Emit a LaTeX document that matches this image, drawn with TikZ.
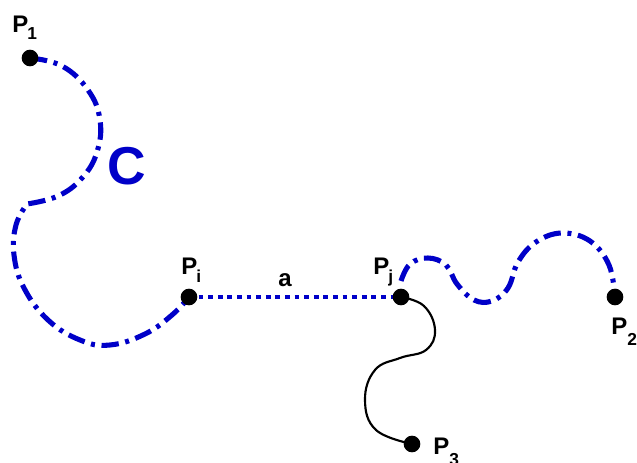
\documentclass[tikz,border=0pt]{standalone}
\usepackage{fontspec}
\setmainfont{Liberation Sans}
\begin{document}
\begin{tikzpicture}[x=0.75pt,y=-0.75pt,
  curveC/.style={draw={rgb,255:red,0;green,0;blue,200}, line width=3.8pt,
    dash pattern=on 13pt off 5pt on 3pt off 5pt},
  chord/.style={draw={rgb,255:red,0;green,0;blue,200}, line width=3.6pt,
    dash pattern=on 3.6pt off 3.6pt},
  branch/.style={draw=black, line width=1.6pt},
  pt/.style={circle, fill=black, inner sep=0pt, minimum size=12.5pt},
  lbl/.style={anchor=base west, inner sep=0pt, font=\bfseries\fontsize{18}{18}\selectfont},
  sub/.style={anchor=base west, inner sep=0pt, font=\bfseries\fontsize{13}{13}\selectfont}]
\useasboundingbox (0,0) rectangle (637,463);

% end points and junctions
\coordinate (p1) at (30,58);
\coordinate (pi) at (189,297);
\coordinate (pj) at (401,297);
\coordinate (p2) at (615,297);
\coordinate (p3) at (412,444);
\coordinate (k)  at (27,204);

% curve C: two smooth arcs meeting at a corner
\draw[curveC] plot[smooth, tension=0.7] coordinates
  {(p1) (62,66) (88,90) (100,120) (97,152) (82,178) (58,196) (k)}
  -- plot[smooth, tension=0.7] coordinates
  {(k) (16,225) (14,255) (24,288) (48,320) (80,340) (110,345) (145,334) (172,315) (pi)};

% chord a
\draw[chord] (pi) -- (pj);

% wave towards P2
\draw[curveC] plot[smooth, tension=0.65] coordinates
  {(401,281) (410,264) (428,258) (446,265) (457,284) (474,300) (492,301) (508,288) (518,262) (536,242) (562,233) (590,241) (609,265) (p2)};

% black branch towards P3
\draw[branch] plot[smooth, tension=0.7] coordinates
  {(pj) (424,306) (435,330) (426,350) (400,358) (375,370) (365,400) (376,430) (p3)};

% points
\foreach \n in {p1,pi,pj,p2,p3} \node[pt] at (\n) {};

% labels
\node[lbl] (l1) at (12,33) {P};
\node[sub] (s1) at (27,40) {1};
\node[lbl] (li) at (181,275) {P};
\node[sub] (si) at (196,283) {i};
\node[lbl] (la) at (278,287) {a};
\node[lbl] (lj) at (373,275) {P};
\node[sub] (sj) at (388,283) {j};
\node[lbl] (l2) at (611,335) {P};
\node[sub] (s2) at (627,346) {2};
\node[lbl] (l3) at (433,455) {P};
\node[sub] (s3) at (449,466) {3};
\node[anchor=base west, inner sep=0pt, text={rgb,255:red,0;green,0;blue,200},
  font=\bfseries\fontsize{40}{40}\selectfont] (c) at (107,185) {C};
\end{tikzpicture}
\end{document}
